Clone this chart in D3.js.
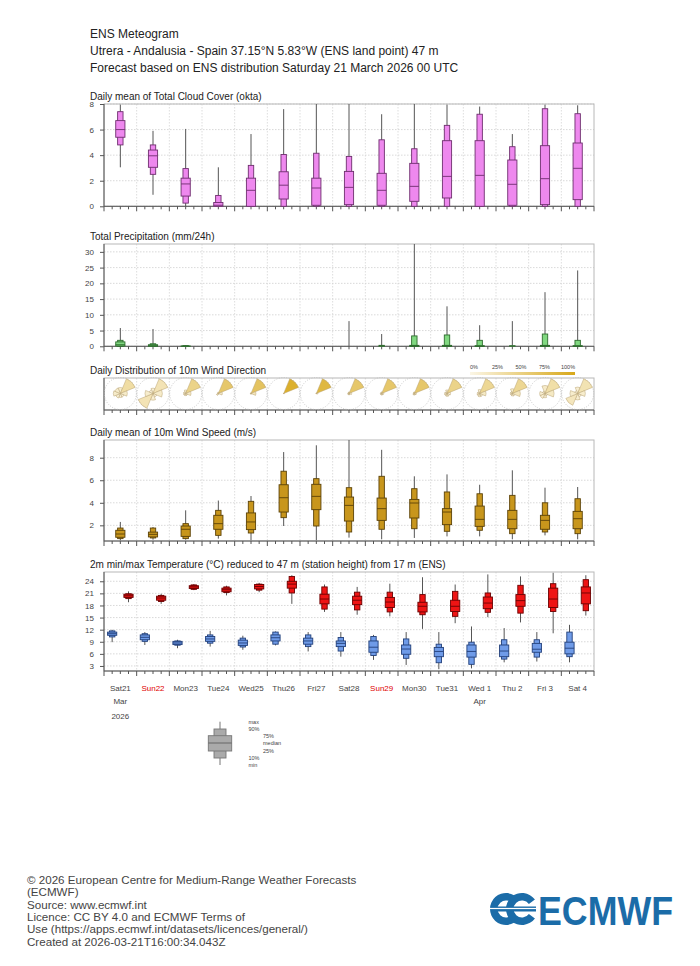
<!DOCTYPE html>
<html><head><meta charset="utf-8">
<script src="https://cdn.jsdelivr.net/npm/d3@7"></script>
<style>
body{margin:0;background:#fff;}
svg{display:block;font-family:"Liberation Sans",Arial,sans-serif;}
</style>
</head><body>
<svg id="c" width="700" height="966"></svg>
<script>
// ---------------- DATA ----------------
const headerLines = [
  "ENS Meteogram",
  "Utrera - Andalusia - Spain 37.15°N 5.83°W (ENS land point) 47 m",
  "Forecast based on ENS distribution Saturday 21 March 2026 00 UTC"
];
const dayLabels = ["Sat21","Sun22","Mon23","Tue24","Wed25","Thu26","Fri27","Sat28","Sun29","Mon30","Tue31","Wed 1","Thu 2","Fri 3","Sat 4"];
const sundayDays = ["Sun22","Sun29"];
const monthLabels = [{day:0,text:"Mar"},{day:11,text:"Apr"}];
const yearLabel = "2026";

// rows: [min, p10, p25, median, p75, p90, max]
const cloudCover = [
  [3.05,4.8,5.4,6.0,6.7,7.4,7.95],
  [0.9,2.5,3.05,3.95,4.4,4.8,5.9],
  [0,0.25,0.8,1.75,2.2,2.95,6.05],
  [0,0,0,0.08,0.3,0.85,3.05],
  [0,0,0,1.25,2.2,3.2,5.65],
  [0,0,0.57,1.65,2.7,4.05,7.6],
  [0,0,0.08,1.43,2.2,4.15,8],
  [0,0,0.13,1.48,2.73,3.9,8],
  [0,0,0.08,1.25,2.58,5.2,7.2],
  [0,0,0.39,1.56,3.36,4.5,8],
  [0,0,0.65,2.34,5.13,6.33,7.95],
  [0,0,0,2.42,5.13,7.2,7.8],
  [0,0,0.08,1.72,3.62,4.66,5.65],
  [0,0,0.13,2.16,4.74,7.63,7.95],
  [0,0,0.52,2.97,4.95,7.24,7.9]
];
const cloudTicks = [0,2,4,6,8];

const precipitation = [
  [0,0,0.1,0.5,1.4,1.9,5.8],
  [0,0,0,0.2,0.5,0.8,5.5],
  [0,0,0,0,0.1,0.2,0.3],
  [0,0,0,0,0,0,0],
  [0,0,0,0,0,0,0],
  [0,0,0,0,0,0,0],
  [0,0,0,0,0,0,0],
  [0,0,0,0,0,0,8.0],
  [0,0,0,0,0,0.3,3.9],
  [0,0,0,0.05,0.3,3.3,32.5],
  [0,0,0,0.05,0.3,3.6,12.7],
  [0,0,0,0,0.2,1.9,6.7],
  [0,0,0,0,0,0.2,8.0],
  [0,0,0,0.05,0.3,3.9,17.2],
  [0,0,0,0,0.2,1.9,24.1]
];
const precipTicks = [0,5,10,15,20,25,30];

// wind direction frequency per day: N, NE, E, SE, S, SW, W, NW
const windDirSectors = ["N","NE","E","SE","S","SW","W","NW"];
const windDirFreq = [
  [0.12,0.32,0.14,0.08,0.08,0.10,0.14,0.12],
  [0.08,0.24,0.14,0.06,0.10,0.24,0.12,0.06],
  [0.10,0.45,0.15,0.06,0.06,0.06,0.06,0.06],
  [0.05,0.60,0.15,0.03,0.03,0.08,0.03,0.03],
  [0.03,0.65,0.20,0.03,0.02,0.03,0.02,0.02],
  [0.02,0.90,0.04,0.01,0.00,0.01,0.01,0.01],
  [0.03,0.80,0.08,0.02,0.02,0.02,0.02,0.01],
  [0.06,0.60,0.10,0.05,0.05,0.05,0.05,0.04],
  [0.06,0.60,0.08,0.06,0.06,0.05,0.05,0.04],
  [0.06,0.60,0.08,0.06,0.06,0.06,0.04,0.04],
  [0.10,0.45,0.10,0.08,0.08,0.07,0.07,0.05],
  [0.10,0.40,0.16,0.08,0.08,0.07,0.06,0.05],
  [0.12,0.40,0.20,0.07,0.06,0.05,0.05,0.05],
  [0.15,0.30,0.17,0.05,0.08,0.10,0.10,0.05],
  [0.10,0.25,0.12,0.06,0.10,0.20,0.12,0.05]
];
const freqLegendTicks = ["0%","25%","50%","75%","100%"];

const windSpeed = [
  [0.67,0.82,0.94,1.23,1.56,1.76,2.3],
  [0.73,0.88,0.97,1.2,1.4,1.76,1.85],
  [0.73,0.82,1.02,1.65,1.94,2.15,3.33],
  [0.82,1.11,1.65,2.15,2.89,3.33,4.2],
  [0.67,1.32,1.62,2.3,3.1,4.13,4.6],
  [1.94,2.68,3.18,4.45,5.6,6.8,8.5],
  [0.67,1.94,3.39,4.57,5.64,6.14,9.1],
  [0.91,1.41,2.38,3.77,4.51,5.34,9.57],
  [0.76,1.65,2.44,3.48,4.42,6.35,8.7],
  [0.88,1.7,2.65,3.98,4.3,5.25,6.35],
  [1.02,1.47,2.06,3.18,3.48,4.96,6.52],
  [1.02,1.56,1.91,2.53,3.71,4.8,5.6],
  [0.76,1.26,1.7,2.53,3.33,4.66,6.88],
  [1.11,1.41,1.65,2.44,2.89,4.0,5.34],
  [0.76,1.26,1.7,2.59,3.24,4.36,5.4]
];
const windTicks = [2,4,6,8];

const tempMin = [
  [8.9,10.2,10.6,11.0,11.4,11.7,11.97],
  [8.2,9.1,9.5,10.1,10.7,11.0,11.4],
  [7.4,8.15,8.3,8.7,9.1,9.2,9.5],
  [7.8,8.65,9.1,9.7,10.3,10.7,11.7],
  [7.0,7.7,8.1,8.7,9.4,9.9,10.5],
  [8.1,8.4,9.2,10.0,10.7,11.4,11.55],
  [6.6,7.8,8.4,9.2,9.9,10.7,11.4],
  [5.3,6.7,7.8,8.6,9.2,10.05,11.4],
  [4.5,5.6,6.4,7.65,9.2,10.3,10.7],
  [3.25,4.9,5.9,7.2,8.2,9.7,11.4],
  [2.2,3.8,5.3,6.6,7.6,8.4,11.4],
  [2.4,3.4,5.2,6.6,8.2,8.9,12.8],
  [3.9,4.7,5.3,6.7,8.2,9.5,12.4],
  [4.1,5.2,6.4,7.15,8.6,9.5,11.4],
  [3.9,5.3,6.0,7.4,8.9,11.4,13.2]
];
const tempMax = [
  [18.8,19.7,20.0,20.4,20.8,20.9,21.5],
  [18.4,19.0,19.3,19.85,20.3,20.5,20.9],
  [21.8,22.0,22.2,22.6,22.9,23.1,23.3],
  [20.5,21.2,21.4,21.9,22.3,22.6,22.9],
  [21.3,21.8,22.1,22.7,23.2,23.3,23.6],
  [18.4,21.1,22.3,23.3,24.0,25.2,25.5],
  [16.4,17.1,18.4,19.6,20.8,22.6,23.2],
  [15.7,16.9,18.2,19.3,20.3,21.3,22.6],
  [15.3,16.4,17.5,18.85,20.0,21.3,23.4],
  [12.2,15.7,16.4,17.8,18.8,20.7,25.0],
  [13.6,15.3,16.5,17.8,19.3,21.5,23.2],
  [15.1,16.3,17.2,18.6,20.1,21.1,25.7],
  [13.8,16.1,17.8,19.2,20.7,23.0,25.2],
  [11.1,16.5,17.5,19.6,22.3,23.4,26.1],
  [15.5,16.7,18.4,21.1,22.6,24.4,25.5]
];
const tempTicks = [3,6,9,12,15,18,21,24];

const legendLabels = [
  {t:"max",q:6,dx:0},{t:"90%",q:5,dx:0},{t:"75%",q:4,dx:1},{t:"median",q:3,dx:1},
  {t:"25%",q:2,dx:1},{t:"10%",q:1,dx:0},{t:"min",q:0,dx:0}
];
const footerLines = [
  "© 2026 European Centre for Medium-Range Weather Forecasts",
  "(ECMWF)",
  "Source: www.ecmwf.int",
  "Licence: CC BY 4.0 and ECMWF Terms of",
  "Use (https://apps.ecmwf.int/datasets/licences/general/)",
  "Created at 2026-03-21T16:00:34.043Z"
];

// ---------------- DRAW ----------------
const svg = d3.select("#c");
const t0 = new Date(Date.UTC(2026,2,21));
const t1 = new Date(Date.UTC(2026,3,5));
const x = d3.scaleUtc().domain([t0,t1]).range([104,594]);
const at = (i,h) => new Date(Date.UTC(2026,2,21+i,h));
const X0 = 104, X1 = 594;

svg.append("g").selectAll("text").data(headerLines).join("text")
  .attr("x",90).attr("y",(d,i)=>38+i*17).attr("font-size",12).attr("fill","#222").text(d=>d);

function panel(top,bottom,title,domain,ticks){
  const g = svg.append("g");
  const y = d3.scaleLinear().domain(domain).range([bottom,top]);
  if(ticks){
    g.append("g").selectAll("line").data(ticks).join("line")
      .attr("x1",X0).attr("x2",X1).attr("y1",d=>y(d)).attr("y2",d=>y(d))
      .attr("stroke","#cfcfcf").attr("stroke-width",0.8).attr("stroke-dasharray","1.5,1.5");
  }
  const days = d3.utcDay.range(d3.utcDay.offset(t0,1),t1);
  g.append("g").selectAll("line").data(days).join("line")
    .attr("x1",d=>x(d)).attr("x2",d=>x(d)).attr("y1",top).attr("y2",bottom)
    .attr("stroke","#d4d4d4").attr("stroke-width",0.8).attr("stroke-dasharray","1.5,1.5");
  g.append("rect").attr("x",X0).attr("y",top).attr("width",X1-X0).attr("height",bottom-top)
    .attr("fill","none").attr("stroke","#b8b8b8").attr("stroke-width",1);
  g.append("line").attr("x1",X0).attr("x2",X0).attr("y1",top).attr("y2",bottom).attr("stroke","#555");
  if(ticks){
    const ax = g.append("g").attr("transform",`translate(${X0},0)`)
      .call(d3.axisLeft(y).tickValues(ticks).tickSize(4).tickPadding(6));
    ax.select(".domain").remove();
    ax.selectAll("line").attr("stroke","#555");
    ax.selectAll("text").attr("font-size",8).attr("fill","#444").attr("font-family","Liberation Sans, Arial, sans-serif");
  }
  g.append("line").attr("x1",X0).attr("x2",X1).attr("y1",bottom).attr("y2",bottom).attr("stroke","#555");
  const hrs = d3.utcHour.every(6).range(t0,d3.utcHour.offset(t1,1));
  g.append("g").selectAll("line").data(hrs).join("line")
    .attr("x1",d=>x(d)).attr("x2",d=>x(d)).attr("y1",bottom)
    .attr("y2",d=>bottom+(d.getUTCHours()===0?5:3)).attr("stroke","#555");
  svg.append("text").attr("x",90).attr("y",top-4.5).attr("font-size",10).attr("fill","#222").text(title);
  return y;
}

function boxes(rows,y,hour,fill,stroke){
  const g = svg.append("g");
  rows.forEach((r,i)=>{
    if(r[6]===0 && y.domain()[0]===0) return;
    const cx = x(at(i,hour));
    g.append("line").attr("x1",cx).attr("x2",cx).attr("y1",y(r[0])).attr("y2",y(r[6]))
      .attr("stroke","#555").attr("stroke-width",1);
    if(r[5]>r[1]) g.append("rect").attr("x",cx-2.7).attr("width",5.4).attr("y",y(r[5])).attr("height",y(r[1])-y(r[5]))
      .attr("fill",fill).attr("stroke",stroke).attr("stroke-width",0.9);
    if(r[4]>r[2]) g.append("rect").attr("x",cx-4.6).attr("width",9.2).attr("y",y(r[4])).attr("height",y(r[2])-y(r[4]))
      .attr("fill",fill).attr("stroke",stroke).attr("stroke-width",0.9);
    if(r[4]>r[2]) g.append("line").attr("x1",cx-4.6).attr("x2",cx+4.6).attr("y1",y(r[3])).attr("y2",y(r[3]))
      .attr("stroke",stroke).attr("stroke-width",0.9);
  });
}

// Cloud cover
const yC = panel(104,206.3,"Daily mean of Total Cloud Cover (okta)",[0,8],cloudTicks);
boxes(cloudCover,yC,12,"#ee88ee","#6e2f6e");

// Precipitation
const yP = panel(244,346.3,"Total Precipitation (mm/24h)",[0,32.5],precipTicks);
boxes(precipitation,yP,12,"#80d880","#2d6b2d");

// Wind direction
panel(378,410,"Daily Distribution of 10m Wind Direction",[0,1],null);
const fcol = d3.scaleLinear().domain([0,1]).range(["#fbf6e6","#d8a818"]).interpolate(d3.interpolateRgb);
const R = 16, cyR = 393.5;
const arcGen = d3.arc().innerRadius(0);
const rg = svg.append("g");
windDirFreq.forEach((fr,i)=>{
  const cx = x(at(i,12));
  const g = rg.append("g").attr("transform",`translate(${cx},${cyR})`);
  g.append("circle").attr("r",R).attr("fill","none").attr("stroke","#bdbdbd")
    .attr("stroke-width",0.8).attr("stroke-dasharray","1,1.5");
  const mx = d3.max(fr);
  fr.forEach((f,k)=>{
    const a = k*Math.PI/4;
    g.append("path").attr("d",arcGen({outerRadius:R*f/mx,startAngle:a-Math.PI/8,endAngle:a+Math.PI/8}))
      .attr("fill",fcol(f)).attr("stroke","#b8a272").attr("stroke-width",0.5);
  });
});
const grad = svg.append("defs").append("linearGradient").attr("id","fg");
grad.append("stop").attr("offset","0%").attr("stop-color",fcol(0));
grad.append("stop").attr("offset","100%").attr("stop-color",fcol(1));
svg.append("rect").attr("x",470).attr("y",372).attr("width",105).attr("height",3).attr("fill","url(#fg)");
svg.append("g").selectAll("text").data(freqLegendTicks).join("text")
  .attr("x",(d,i)=>474+i*23.5).attr("y",369).attr("text-anchor","middle")
  .attr("font-size",5.5).attr("fill","#444").text(d=>d);

// Wind speed
const yW = panel(440,541,"Daily mean of 10m Wind Speed (m/s)",[0.61,9.57],windTicks);
boxes(windSpeed,yW,12,"#c8961c","#5b4208");

// Temperature
const yT = panel(572,671,"2m min/max Temperature (°C) reduced to 47 m (station height) from 17 m (ENS)",[1.75,26.3],tempTicks);
boxes(tempMin,yT,6,"#6f9be8","#23407a");
boxes(tempMax,yT,18,"#ee1414","#6a0000");

// date labels
svg.append("g").selectAll("text").data(dayLabels).join("text")
  .attr("x",(d,i)=>x(at(i,12))).attr("y",690.5).attr("text-anchor","middle")
  .attr("font-size",8).attr("fill",d=>sundayDays.includes(d)?"#e00000":"#444").text(d=>d);
svg.append("g").selectAll("text").data(monthLabels).join("text")
  .attr("x",d=>x(at(d.day,12))).attr("y",704).attr("text-anchor","middle")
  .attr("font-size",8).attr("fill","#444").text(d=>d.text);
svg.append("text").attr("x",x(at(0,12))).attr("y",719).attr("text-anchor","middle")
  .attr("font-size",8).attr("fill","#444").text(yearLabel);

// legend box
const lg = svg.append("g");
const lpos = [765,758,751,743,735.7,729,721.7];
lg.append("line").attr("x1",220).attr("x2",220).attr("y1",lpos[0]).attr("y2",lpos[6]).attr("stroke","#777");
lg.append("rect").attr("x",214).attr("width",12).attr("y",lpos[5]).attr("height",lpos[1]-lpos[5])
  .attr("fill","#aaa").attr("stroke","#777").attr("stroke-width",0.9);
lg.append("rect").attr("x",208.3).attr("width",23.4).attr("y",lpos[4]).attr("height",lpos[2]-lpos[4])
  .attr("fill","#aaa").attr("stroke","#777").attr("stroke-width",0.9);
lg.append("line").attr("x1",208.3).attr("x2",231.7).attr("y1",lpos[3]).attr("y2",lpos[3]).attr("stroke","#666");
lg.selectAll("text").data(legendLabels).join("text")
  .attr("x",d=>d.dx?263:248.5).attr("y",d=>lpos[d.q]+1.8)
  .attr("font-size",5.5).attr("fill","#444").text(d=>d.t);

// footer
svg.append("g").selectAll("text").data(footerLines).join("text")
  .attr("x",27).attr("y",(d,i)=>884+i*12.3).attr("font-size",11.6).attr("fill","#444").text(d=>d);

// logo
const blue = "#1b6ca8";
const logo = svg.append("g");
const ring = d3.arc().innerRadius(8.5).outerRadius(16);
[506,522].forEach(cx=>{
  logo.append("path").attr("transform",`translate(${cx},909)`)
    .attr("d",ring({startAngle:Math.PI*0.7,endAngle:Math.PI*2.3})).attr("fill",blue);
});
logo.append("rect").attr("x",496).attr("y",906.5).attr("width",40).attr("height",5).attr("fill",blue);
logo.append("rect").attr("x",490).attr("y",907.9).attr("width",47).attr("height",1.2).attr("fill","#fff");
logo.append("text").attr("x",538).attr("y",925).attr("font-size",41).attr("font-weight","bold")
  .attr("textLength",135).attr("lengthAdjust","spacingAndGlyphs").attr("fill",blue).text("ECMWF");
</script>
</body></html>
